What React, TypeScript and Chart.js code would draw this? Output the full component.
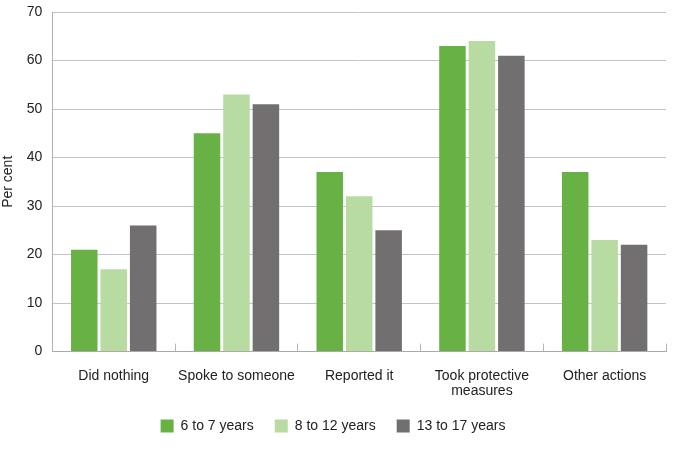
import React, { useEffect, useRef } from "react";
import { Chart, registerables } from "chart.js";

Chart.register(...registerables);

const categories: (string | string[])[] = [
  "Did nothing",
  "Spoke to someone",
  "Reported it",
  ["Took protective", "measures"],
  "Other actions",
];
const seriesNames = ["6 to 7 years", "8 to 12 years", "13 to 17 years"];
const age6to7 = [21, 45, 37, 63, 37];
const age8to12 = [17, 53, 32, 64, 23];
const age13to17 = [26, 51, 25, 61, 22];
const colors = ["#68b245", "#b7dba1", "#716f70"];

export default function App() {
  const ref = useRef<HTMLCanvasElement | null>(null);
  useEffect(() => {
    if (!ref.current) return;
    const font = "'Liberation Sans', Arial, sans-serif";
    const chart = new Chart(ref.current, {
      type: "bar",
      data: {
        labels: categories,
        datasets: [age6to7, age8to12, age13to17].map((d, i) => ({
          label: seriesNames[i],
          data: d,
          backgroundColor: colors[i],
          borderWidth: 0,
          barPercentage: 0.9,
          categoryPercentage: 0.72,
        })),
      },
      options: {
        responsive: false,
        animation: false,
        devicePixelRatio: 1,
        layout: { padding: { left: 0, right: 9, top: 12, bottom: 6 } },
        plugins: {
          tooltip: { enabled: false },
          legend: {
            position: "bottom",
            labels: {
              boxWidth: 13,
              boxHeight: 13,
              padding: 21,
              color: "#222",
              font: { family: font, size: 14 },
            },
          },
        },
        scales: {
          x: {
            afterFit: (s: any) => {
              s.height -= 25;
            },
            grid: {
              offset: true,
              drawOnChartArea: false,
              tickLength: -8,
              color: "#b5b5b5",
              lineWidth: 1,
            },
            border: { color: "#aaaaaa", width: 1 },
            ticks: {
              color: "#222",
              padding: 25,
              font: { family: font, size: 14, lineHeight: 1.05 },
              maxRotation: 0,
              autoSkip: false,
            },
          },
          y: {
            min: 0,
            max: 70,
            afterFit: (s: any) => {
              s.paddingTop = 0;
            },
            ticks: {
              stepSize: 10,
              color: "#222",
              padding: 10,
              font: { family: font, size: 14 },
            },
            grid: { color: "#c4c4c4", drawTicks: false, lineWidth: 1 },
            border: { color: "#b0b0b0", width: 1 },
            title: {
              display: true,
              text: "Per cent",
              color: "#222",
              font: { family: font, size: 14 },
              padding: { top: 0, bottom: 0 },
            },
          },
        },
      },
    });
    return () => chart.destroy();
  }, []);
  return (
    <div style={{ position: "absolute", left: 0, top: 0, width: 675, height: 449 }}>
      <canvas ref={ref} width={675} height={449} />
    </div>
  );
}
